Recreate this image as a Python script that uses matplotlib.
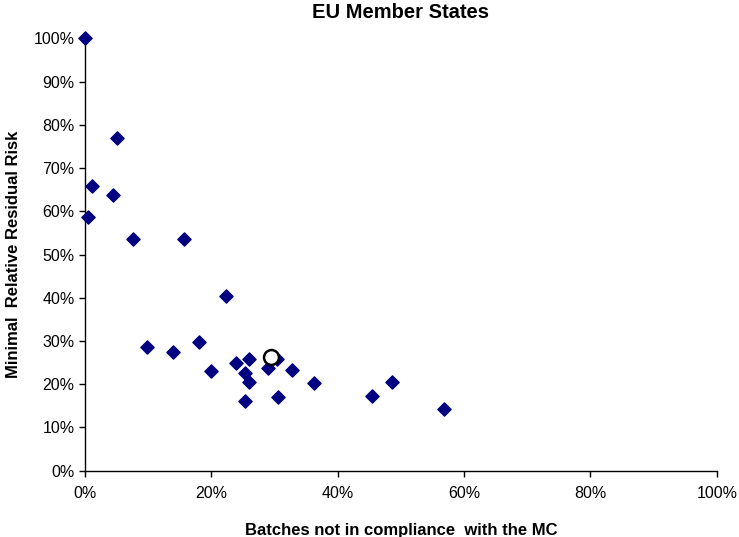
import matplotlib.pyplot as plt
from matplotlib.ticker import PercentFormatter

plt.rcParams['font.family'] = ['Liberation Sans', 'DejaVu Sans']

# share of batches not in compliance (%) vs minimal relative residual risk (%)
batches = [0.0, 5.1, 1.1, 4.4, 0.4, 7.6, 15.7, 9.8, 13.9, 18.0,
           22.3, 19.9, 23.9, 26.0, 25.4, 25.9, 25.4, 28.9, 30.4, 32.8,
           30.5, 36.2, 45.4, 48.6, 56.8]
risk = [100.0, 76.9, 65.8, 63.7, 58.6, 53.7, 53.7, 28.5, 27.4, 29.7,
        40.3, 23.0, 24.9, 25.8, 22.7, 20.5, 16.1, 23.8, 25.8, 23.4,
        17.0, 20.3, 17.3, 20.4, 14.2]

# EU average
avg_x = [29.5]
avg_y = [26.3]

fig = plt.figure(figsize=(7.39, 5.37), dpi=100)
ax = fig.add_axes([0.115, 0.1235, 0.855, 0.805])

ax.scatter(batches, risk, marker='D', s=45, color='#000080', zorder=3, clip_on=False)
ax.scatter(avg_x, avg_y, marker='o', s=115, facecolor='white', edgecolor='black',
           linewidth=1.8, zorder=4, clip_on=False)

ax.set_xlim(0, 100)
ax.set_ylim(0, 100)
ax.set_xticks(range(0, 101, 20))
ax.set_yticks(range(0, 101, 10))
ax.xaxis.set_major_formatter(PercentFormatter(decimals=0))
ax.yaxis.set_major_formatter(PercentFormatter(decimals=0))
ax.tick_params(labelsize=11.5, direction='out', length=4, width=1, color='black')
ax.tick_params(axis='x', pad=7)

for s in ['top', 'right']:
    ax.spines[s].set_visible(False)
for s in ['left', 'bottom']:
    ax.spines[s].set_linewidth(1)

ax.set_title("EU Member States", fontsize=14.5, fontweight='bold', pad=15)
ax.set_xlabel("Batches not in compliance  with the MC", fontsize=12,
              fontweight='bold', labelpad=16)
ax.set_ylabel("Minimal  Relative Residual Risk", fontsize=12,
              fontweight='bold', labelpad=9)

plt.savefig("out.png", dpi=100)
